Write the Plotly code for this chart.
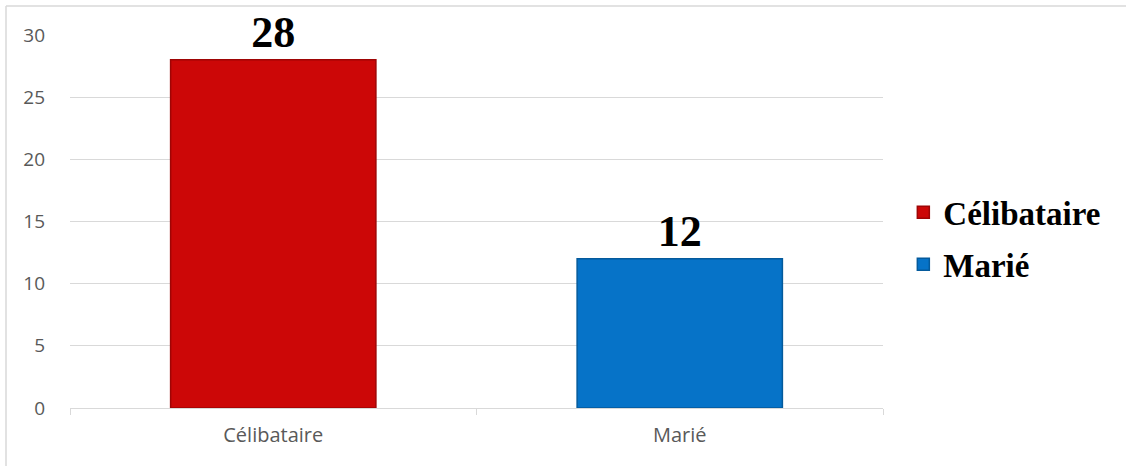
import plotly.graph_objects as go

categories = ["Célibataire", "Marié"]
values = [28, 12]
colors = ["#CC0707", "#0673C8"]
edge_colors = ["#9E0505", "#045A9C"]
y_ticks = [0, 5, 10, 15, 20, 25, 30]

fig = go.Figure()
for cat, val, col, edge in zip(categories, values, colors, edge_colors):
    fig.add_trace(go.Bar(
        x=[cat], y=[val], name=cat, legendgroup=cat,
        marker=dict(color=col, line=dict(color=edge, width=1.5)),
        text=[str(val)], textposition="outside",
        textfont=dict(family="Liberation Serif", size=44, color="black", weight="bold"),
        cliponaxis=False, width=0.505,
    ))

fig.update_layout(
    width=1126, height=466,
    margin=dict(l=70, r=243, t=35, b=58),
    paper_bgcolor="white", plot_bgcolor="white",
    barmode="overlay",
    showlegend=True,
    legend=dict(
        x=1.025, xanchor="left", y=0.455, yanchor="middle",
        font=dict(family="Liberation Serif", size=33, color="black", weight="bold"),
        traceorder="grouped", tracegroupgap=6, itemwidth=30,
    ),
    xaxis=dict(
        showline=True, linecolor="#D9D9D9", linewidth=1,
        ticks="outside", tickson="boundaries", ticklen=6, tickcolor="#D9D9D9",
        tickfont=dict(family="Open Sans", size=20, color="#595959"),
        ticklabelstandoff=9,
        showgrid=False,
    ),
    yaxis=dict(
        range=[0, 30], tickvals=y_ticks,
        showgrid=True, gridcolor="#D9D9D9", gridwidth=1,
        zeroline=False, showline=False,
        tickfont=dict(family="Open Sans", size=19, color="#595959"),
        ticklabelstandoff=24,
    ),
    shapes=[
        dict(type="line", xref="paper", yref="paper",
             x0=(6 - 70) / 813, x1=(1126 - 70) / 813, y0=1 + (35 - 6) / 373, y1=1 + (35 - 6) / 373,
             line=dict(color="#D9D9D9", width=1.5)),
        dict(type="line", xref="paper", yref="paper",
             x0=(6 - 70) / 813, x1=(6 - 70) / 813, y0=1 + (35 - 6) / 373, y1=-0.2,
             line=dict(color="#D9D9D9", width=1.5)),
    ],
)

fig.write_html("out.html")
